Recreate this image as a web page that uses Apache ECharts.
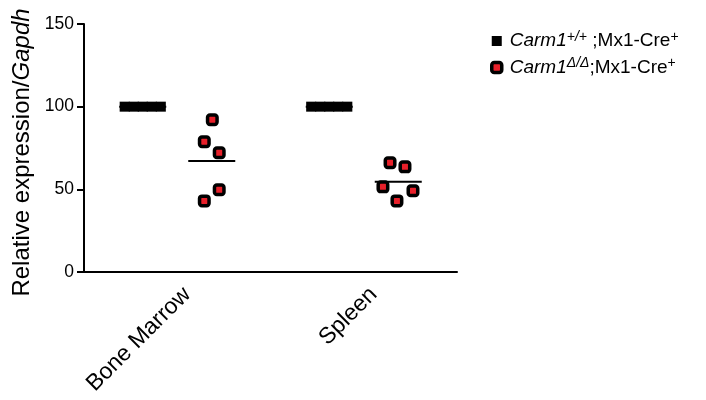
<!DOCTYPE html>
<html>
<head>
<meta charset="utf-8">
<script src="https://cdn.jsdelivr.net/npm/echarts@6/dist/echarts.min.js"></script>
<style>
html,body{margin:0;padding:0;background:#fff;}
#chart{width:706px;height:400px;}
</style>
</head>
<body>
<div id="chart"></div>
<script>
// ---- data ----
const categories = ['Bone Marrow', 'Spleen'];
const yTicks = [0, 50, 100, 150];
// wild-type (Carm1+/+;Mx1-Cre+) values per category
const wtValues = [
  [100, 100, 100, 100, 100],
  [100, 100, 100, 100, 100]
];
// knockout (Carm1Δ/Δ;Mx1-Cre+) values per category
const koValues = [
  [92.1, 78.8, 72.1, 49.7, 43.0],
  [66.1, 63.6, 51.5, 49.1, 43.0]
];
// horizontal scatter (jitter) of each point within its column, in category units
const wtJitter = [
  [-0.097, -0.048, 0, 0.048, 0.097],
  [-0.097, -0.048, 0, 0.048, 0.097]
];
const koJitter = [
  [0.003, -0.040, 0.040, 0.040, -0.040],
  [-0.044, 0.036, -0.082, 0.079, -0.007]
];
const legendParts = [
  { gene: 'Carm1', geno: '+/+', rest: ' ;Mx1-Cre', sup: '+' },
  { gene: 'Carm1', geno: 'Δ/Δ', rest: ';Mx1-Cre', sup: '+' }
];
const seriesNames = legendParts.map(p => p.gene + p.geno + p.rest + p.sup);
const yTitle = { plain: 'Relative expression/', italic: 'Gapdh' };

// ---- layout helpers ----
const FONT = "'Liberation Sans', Arial, Helvetica, sans-serif";
const groupOffset = 0.185;   // column offset from category centre
const meanHalf = 0.126;      // half width of mean line
const RED = '#e8202a';

function points(values, jitter, side) {
  const out = [];
  values.forEach((vals, ci) => {
    vals.forEach((v, i) => {
      out.push([ci + 0.5 + side * groupOffset + jitter[ci][i], v]);
    });
  });
  return out;
}
function mean(a) { return a.reduce((s, v) => s + v, 0) / a.length; }
function meanSeries(values, side) {
  return values.map((vals, ci) => {
    const c = ci + 0.5 + side * groupOffset;
    const m = mean(vals);
    return {
      type: 'line', xAxisIndex: 1, yAxisIndex: 0, silent: true,
      symbol: 'none', z: 1,
      lineStyle: { color: '#000', width: 2 },
      data: [[c - meanHalf, m], [c + meanHalf, m]]
    };
  });
}
const legendMap = {};
seriesNames.forEach((n, i) => {
  const p = legendParts[i];
  legendMap[n] = '{g|' + p.gene + '}{gs|' + p.geno + '}{r|' + p.rest + '}{s|' + p.sup + '}';
});

const chart = echarts.init(document.getElementById('chart'), null, { renderer: 'canvas' });
chart.setOption({
  animation: false,
  backgroundColor: '#fff',
  textStyle: { fontFamily: FONT, color: '#000' },
  grid: { left: 84, right: 249, top: 24, bottom: 128, containLabel: false, outerBoundsMode: 'none' },
  legend: {
    orient: 'vertical',
    left: 490, top: 30,
    padding: 0,
    itemWidth: 10, itemHeight: 10,
    itemGap: 6,
    selectedMode: false,
    data: [
      { name: seriesNames[0], icon: 'rect', itemStyle: { color: '#000', borderWidth: 0 } },
      { name: seriesNames[1], icon: 'roundRect', itemStyle: { color: RED, borderColor: '#000', borderWidth: 3.5 } }
    ],
    formatter: n => legendMap[n],
    textStyle: {
      fontFamily: FONT, color: '#000',
      rich: {
        g: { fontFamily: FONT, fontStyle: 'italic', fontSize: 19, lineHeight: 22, padding: [0, 0, 0, 3], color: '#000' },
        gs: { fontFamily: FONT, fontStyle: 'italic', fontSize: 14, lineHeight: 18, verticalAlign: 'top', color: '#000' },
        r: { fontFamily: FONT, fontSize: 19, lineHeight: 22, color: '#000' },
        s: { fontFamily: FONT, fontSize: 14, lineHeight: 18, verticalAlign: 'top', color: '#000' }
      }
    }
  },
  xAxis: [
    {
      type: 'category', data: categories, boundaryGap: true,
      axisLine: { lineStyle: { color: '#000', width: 2 } },
      axisTick: { alignWithLabel: true, length: 6, lineStyle: { color: '#000', width: 2 } },
      axisLabel: {
        rotate: 45, align: 'right', verticalAlign: 'top', margin: 9, lineHeight: 28,
        fontFamily: FONT, fontSize: 23, color: '#000'
      },
      splitLine: { show: false }
    },
    { type: 'value', min: 0, max: categories.length, show: false }
  ],
  yAxis: {
    type: 'value',
    min: yTicks[0], max: yTicks[yTicks.length - 1], interval: yTicks[1] - yTicks[0],
    name: '{n|' + yTitle.plain + '}{i|' + yTitle.italic + '}',
    nameLocation: 'middle', nameRotate: 90, nameGap: 46,
    nameTextStyle: {
      fontFamily: FONT, fontSize: 24, color: '#000', padding: [0, 9, 0, 0],
      rich: {
        n: { fontFamily: FONT, fontSize: 24, color: '#000' },
        i: { fontFamily: FONT, fontSize: 24, fontStyle: 'italic', color: '#000' }
      }
    },
    axisLine: { show: true, lineStyle: { color: '#000', width: 2 } },
    axisTick: { show: true, length: 7, lineStyle: { color: '#000', width: 2 } },
    axisLabel: { fontFamily: FONT, fontSize: 17.5, color: '#000', margin: 10 },
    splitLine: { show: false }
  },
  series: [
    {
      name: seriesNames[0], type: 'scatter', xAxisIndex: 1, yAxisIndex: 0, z: 3,
      symbol: 'rect', symbolSize: 10,
      itemStyle: { color: '#000', opacity: 1 },
      data: points(wtValues, wtJitter, -1)
    },
    {
      name: seriesNames[1], type: 'scatter', xAxisIndex: 1, yAxisIndex: 0, z: 3,
      symbol: 'roundRect', symbolSize: 9.5,
      itemStyle: { color: RED, borderColor: '#000', borderWidth: 3.5, opacity: 1 },
      data: points(koValues, koJitter, 1)
    }
  ].concat(meanSeries(wtValues, -1), meanSeries(koValues, 1))
});
</script>
</body>
</html>
